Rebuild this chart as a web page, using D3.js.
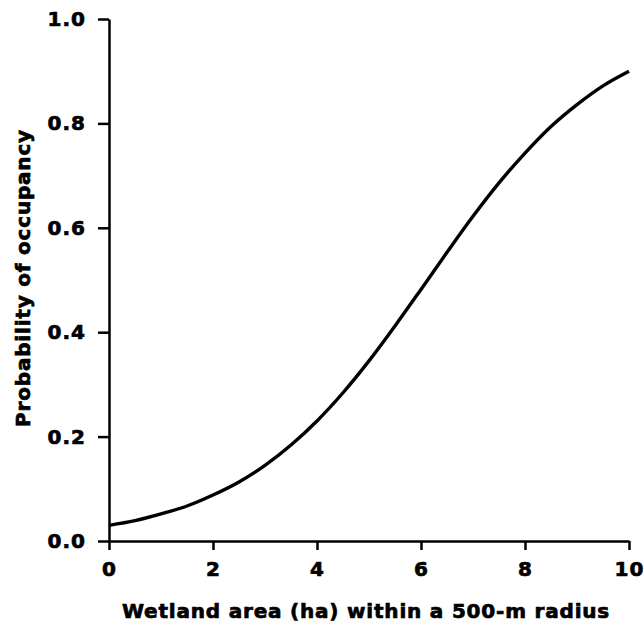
<!DOCTYPE html>
<html>
<head>
<meta charset="utf-8">
<script src="https://cdn.jsdelivr.net/npm/d3@7"></script>
<style>
  body { margin: 0; background: #fff; }
  text { font-family: "DejaVu Sans", sans-serif; font-weight: bold; fill: #000;
         stroke: #000; stroke-width: 0.7px; }
</style>
</head>
<body>
<svg width="644" height="629"></svg>
<script>
// values
var area = [0, 0.5, 1, 1.5, 2, 2.5, 3, 3.5, 4, 4.5, 5, 5.5, 6, 6.5, 7, 7.5, 8, 8.5, 9, 9.5, 10];
var prob = [0.030, 0.039, 0.052, 0.067, 0.088, 0.113, 0.145, 0.184, 0.230, 0.284, 0.345,
            0.412, 0.482, 0.553, 0.622, 0.686, 0.743, 0.794, 0.836, 0.872, 0.900];
var xTicks = [0, 2, 4, 6, 8, 10];
var yTicks = [0, 0.2, 0.4, 0.6, 0.8, 1.0];

var svg = d3.select("svg");

// scales
var x = d3.scaleLinear().domain([0, 10]).range([109, 629]);
var y = d3.scaleLinear().domain([0, 1]).range([541, 19]);

// x axis
var xAxis = d3.axisBottom(x)
    .tickValues(xTicks)
    .tickFormat(d3.format("d"))
    .tickSize(9)
    .tickSizeOuter(0)
    .tickPadding(12);

svg.append("g")
    .attr("transform", "translate(0," + y(0) + ")")
    .call(xAxis)
    .call(function(g) {
      g.select(".domain").attr("stroke-width", 2.5);
      g.selectAll(".tick line").attr("stroke-width", 2.5);
      g.selectAll(".tick text").style("font-size", "20px").style("letter-spacing", "1px");
    });

// y axis
var yAxis = d3.axisLeft(y)
    .tickValues(yTicks)
    .tickFormat(d3.format(".1f"))
    .tickSize(11)
    .tickSizeOuter(0)
    .tickPadding(12);

svg.append("g")
    .attr("transform", "translate(" + x(0) + ",0)")
    .call(yAxis)
    .call(function(g) {
      g.select(".domain").attr("stroke-width", 2.5);
      g.selectAll(".tick line").attr("stroke-width", 2.5);
      g.selectAll(".tick text").style("font-size", "20px").style("letter-spacing", "1px");
    });

// curve
var line = d3.line()
    .x(function(d, i) { return x(area[i]); })
    .y(function(d) { return y(d); })
    .curve(d3.curveMonotoneX);

svg.append("path")
    .datum(prob)
    .attr("fill", "none")
    .attr("stroke", "#000")
    .attr("stroke-width", 3.4)
    .attr("d", line);

// axis labels
svg.append("text")
    .attr("x", 366)
    .attr("y", 618)
    .attr("text-anchor", "middle")
    .style("font-size", "20px")
    .style("letter-spacing", "0.8px")
    .text("Wetland area (ha) within a 500-m radius");

svg.append("text")
    .attr("transform", "rotate(-90)")
    .attr("x", -278)
    .attr("y", 30)
    .attr("text-anchor", "middle")
    .style("font-size", "20px")
    .style("letter-spacing", "0.8px")
    .text("Probability of occupancy");
</script>
</body>
</html>
